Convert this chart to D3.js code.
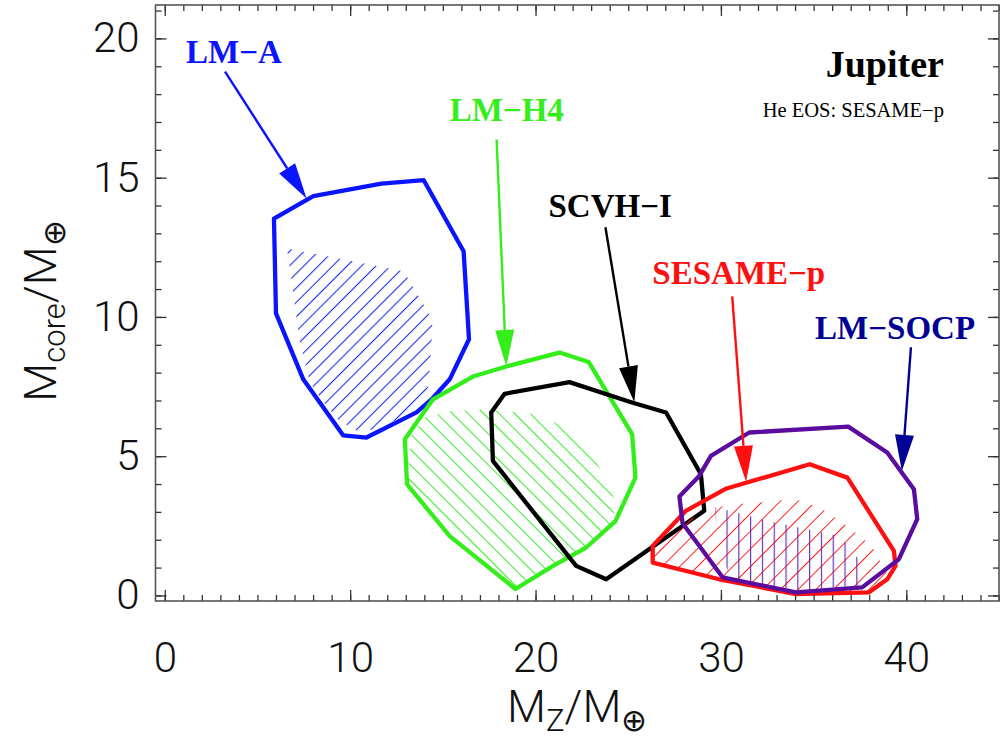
<!DOCTYPE html>
<html><head><meta charset="utf-8">
<script src="https://cdn.jsdelivr.net/npm/d3@7"></script>
<style>body{margin:0;background:#fff}</style>
</head><body><svg id="c" width="1000" height="740"></svg>
<script>
// ---- data (M_Z, M_core) in Earth masses ----
const xMajorTicks=[0,10,20,30,40];
const yMajorTicks=[0,5,10,15,20];
const xMinorTicks=[0,1,2,3,4,5,6,7,8,9,10,11,12,13,14,15,16,17,18,19,20,21,22,23,24,25,26,27,28,29,30,31,32,33,34,35,36,37,38,39,40,41,42,43,44,45];
const yMinorTicks=[0,1,2,3,4,5,6,7,8,9,10,11,12,13,14,15,16,17,18,19,20,21];

const lmA=[[5.89,13.53],[8.01,14.34],[11.69,14.79],[13.97,14.91],[16.12,12.36],[16.41,9.20],[15.37,7.76],[14.45,7.08],[13.58,6.57],[10.88,5.67],[9.62,5.75],[7.47,7.76],[6.00,10.13]];
const lmAHatch=[[6.59,12.46],[12.89,11.64],[14.24,10.13],[14.45,9.66],[14.24,7.65],[14.08,7.01],[11.76,6.00],[10.41,5.89],[9.34,6.32],[8.53,6.96],[7.83,7.65],[7.29,9.08],[6.86,11.21]];

const lmH4=[[12.95,5.61],[14.47,7.04],[16.62,7.86],[18.42,8.22],[21.29,8.72],[22.87,8.38],[25.21,5.79],[25.39,4.23],[24.31,2.67],[22.73,1.72],[20.92,1.05],[18.92,0.23],[15.37,2.13],[13.07,3.99]];
const lmH4Hatch=[[13.27,5.68],[14.02,6.40],[15.42,6.61],[17.25,6.68],[19.14,6.57],[20.11,6.50],[21.83,5.96],[22.80,5.32],[24.15,3.81],[24.31,3.09],[23.99,2.55],[22.75,1.72],[20.92,1.05],[18.92,0.23],[15.37,2.13],[13.05,3.99]];

const scvhI=[[18.33,7.24],[21.83,7.66],[25.24,6.92],[27.04,6.57],[28.92,4.35],[29.10,3.04],[23.81,0.58],[22.19,1.06],[17.70,4.83],[17.61,6.57]];

const sesameP=[[26.32,1.78],[28.11,3.04],[30.30,3.84],[34.79,4.71],[36.82,4.23],[39.33,1.60],[39.42,1.06],[38.97,0.58],[37.99,0.11],[34.04,0.05],[29.91,0.58],[26.32,1.18]];
const sesamePHatch=[[26.41,1.66],[28.29,2.74],[30.07,3.20],[31.04,3.28],[34.00,3.46],[35.40,3.13],[36.91,2.45],[38.15,1.77],[39.06,0.66],[38.53,0.22],[37.77,0.08],[34.05,0.08],[29.91,0.62],[26.41,1.23]];

const lmSOCP=[[27.76,3.55],[27.93,2.59],[30.09,0.65],[34.04,0.11],[37.62,0.29],[39.60,1.30],[40.59,2.74],[40.41,3.81],[38.97,5.13],[36.87,6.06],[31.53,5.85],[29.46,5.01],[28.83,4.29]];
const lmSOCPHatch=[[29.69,3.17],[33.03,2.60],[36.16,2.17],[36.86,1.81],[37.56,1.16],[37.62,0.37],[34.22,0.19],[30.56,0.59],[29.80,1.80]];

const labels=["LM−A","LM−H4","SCVH−I","SESAME−p","LM−SOCP"];
const labelPos=[[1.15,19.10],[15.37,17.02],[20.70,13.57],[26.30,11.17],[35.08,9.20]];
const arrowFrom=[[3.25,18.81],[17.90,16.37],[23.77,13.22],[30.61,10.74],[40.25,8.91]];
const arrowTo=[[7.65,14.25],[18.42,8.24],[25.33,6.94],[31.36,4.08],[39.76,4.47]];
const labelColors=["#0a14ff","#33ee1a","#000000","#ff1010","#000096"];

// ---- layout ----
const svg=d3.select("#c");
const x=d3.scaleLinear().domain([-0.5,45]).range([155.5,999]);
const y=d3.scaleLinear().domain([-0.2,21.2]).range([601,5]);
const P=p=>[x(p[0]),y(p[1])];
const line=d3.line().x(d=>x(d[0])).y(d=>y(d[1])).curve(d3.curveLinearClosed);

// hatch patterns
const defs=svg.append("defs");
function hatch(id,color,sp,rot,width){
  const p=defs.append("pattern").attr("id",id).attr("patternUnits","userSpaceOnUse")
    .attr("width",sp).attr("height",sp).attr("patternTransform",`rotate(${rot})`);
  p.append("line").attr("x1",0).attr("x2",sp).attr("y1",sp/2).attr("y2",sp/2)
    .attr("stroke",color).attr("stroke-width",width);
}
hatch("hB","#1a2ef0",10.2,-45,1.1);
hatch("hG","#3aee28",11,45,1);
hatch("hR","#ff1a1a",12.5,-45,1);
(function(){
  const sp=11.8;
  const p=defs.append("pattern").attr("id","hP").attr("patternUnits","userSpaceOnUse")
    .attr("x",x(29.69)-0.5).attr("width",sp).attr("height",sp);
  p.append("line").attr("x1",0.5).attr("x2",0.5).attr("y1",0).attr("y2",sp)
    .attr("stroke","#6a2ab0").attr("stroke-width",1.3);
})();

const g=svg.append("g");
function hatchArea(data,pat){g.append("path").attr("d",line(data)).attr("fill",`url(#${pat})`).attr("stroke","none");}
function outline(data,color){g.append("path").attr("d",line(data)).attr("fill","none").attr("stroke",color).attr("stroke-width",4.3).attr("stroke-linejoin","round");}

hatchArea(lmAHatch,"hB");
outline(lmA,"#0a14ff");
hatchArea(lmH4Hatch,"hG");
outline(lmH4,"#33ee1a");
outline(scvhI,"#000000");
hatchArea(sesamePHatch,"hR");
outline(sesameP,"#ff1010");
hatchArea(lmSOCPHatch,"hP");
outline(lmSOCP,"#5a0c9e");

// arrows + labels
labels.forEach((t,i)=>{
  const c=labelColors[i];
  const S=P(arrowFrom[i]),T=P(arrowTo[i]);
  const dx=T[0]-S[0],dy=T[1]-S[1],L=Math.hypot(dx,dy),ux=dx/L,uy=dy/L;
  const hl=36,hw=9.5;
  const B=[T[0]-ux*hl,T[1]-uy*hl];
  g.append("line").attr("x1",S[0]).attr("y1",S[1]).attr("x2",B[0]).attr("y2",B[1])
    .attr("stroke",c).attr("stroke-width",2.4);
  g.append("path").attr("d",`M${T[0]},${T[1]}L${B[0]-uy*hw},${B[1]+ux*hw}L${B[0]+uy*hw},${B[1]-ux*hw}Z`).attr("fill",c);
  svg.append("text").attr("x",x(labelPos[i][0])).attr("y",y(labelPos[i][1]))
    .attr("fill",c).attr("font-family","Liberation Serif").attr("font-weight","bold")
    .attr("font-size",33).text(t);
});

svg.append("text").attr("x",x(42.03)).attr("y",y(18.60)).attr("text-anchor","end")
  .attr("font-family","Liberation Serif").attr("font-weight","bold").attr("font-size",38).text("Jupiter");
svg.append("text").attr("x",x(42.03)).attr("y",y(17.17)).attr("text-anchor","end")
  .attr("font-family","Liberation Serif").attr("font-size",20.5).text("He EOS: SESAME−p");

// axes
const axFont="Roboto";
function styleAxis(sel){sel.select(".domain").remove();sel.selectAll("line").attr("stroke","#333").attr("stroke-width",1.3);
  sel.selectAll("text").attr("font-family",axFont).attr("font-weight",300).attr("font-size",42).attr("fill","#111");}
const ax=(gen,tr)=>svg.append("g").attr("transform",tr).call(gen).call(styleAxis);
ax(d3.axisBottom(x).tickValues(xMinorTicks).tickSize(-6).tickFormat(""),"translate(0,601)");
ax(d3.axisBottom(x).tickValues(xMajorTicks).tickSize(-11).tickPadding(41).tickFormat(d3.format("d")),"translate(0,601)");
ax(d3.axisTop(x).tickValues(xMinorTicks).tickSize(-6).tickFormat(""),"translate(0,5)");
ax(d3.axisTop(x).tickValues(xMajorTicks).tickSize(-11).tickFormat(""),"translate(0,5)");
ax(d3.axisLeft(y).tickValues(yMinorTicks).tickSize(-6).tickFormat(""),"translate(155.5,0)");
ax(d3.axisLeft(y).tickValues(yMajorTicks).tickSize(-11).tickPadding(16).tickFormat(d3.format("d")),"translate(155.5,0)");
ax(d3.axisRight(y).tickValues(yMinorTicks).tickSize(-6).tickFormat(""),"translate(999,0)");
ax(d3.axisRight(y).tickValues(yMajorTicks).tickSize(-11).tickFormat(""),"translate(999,0)");

svg.append("rect").attr("x",155.5).attr("y",5).attr("width",999-155.5).attr("height",596)
  .attr("fill","none").attr("stroke","#555").attr("stroke-width",1.6);

// axis titles
const xt=svg.append("text").attr("x",(155.5+999)/2).attr("y",722).attr("text-anchor","middle")
  .attr("font-family",axFont).attr("font-weight",300).attr("font-size",45).attr("fill","#111");
xt.append("tspan").text("M");
xt.append("tspan").attr("font-size",31).attr("dy",9).text("Z");
xt.append("tspan").attr("dy",-9).text("/M");
xt.append("tspan").attr("font-size",31).attr("dy",9).attr("font-family","DejaVu Sans").attr("font-weight",200).text("⊕");

const yt=svg.append("text").attr("transform",`translate(56,${(5+601)/2+8}) rotate(-90)`).attr("text-anchor","middle")
  .attr("font-family",axFont).attr("font-weight",300).attr("font-size",45).attr("fill","#111");
yt.append("tspan").text("M");
yt.append("tspan").attr("font-size",31).attr("dy",9).text("core");
yt.append("tspan").attr("dy",-9).text("/M");
yt.append("tspan").attr("font-size",31).attr("dy",9).attr("font-family","DejaVu Sans").attr("font-weight",200).text("⊕");
</script></body></html>
